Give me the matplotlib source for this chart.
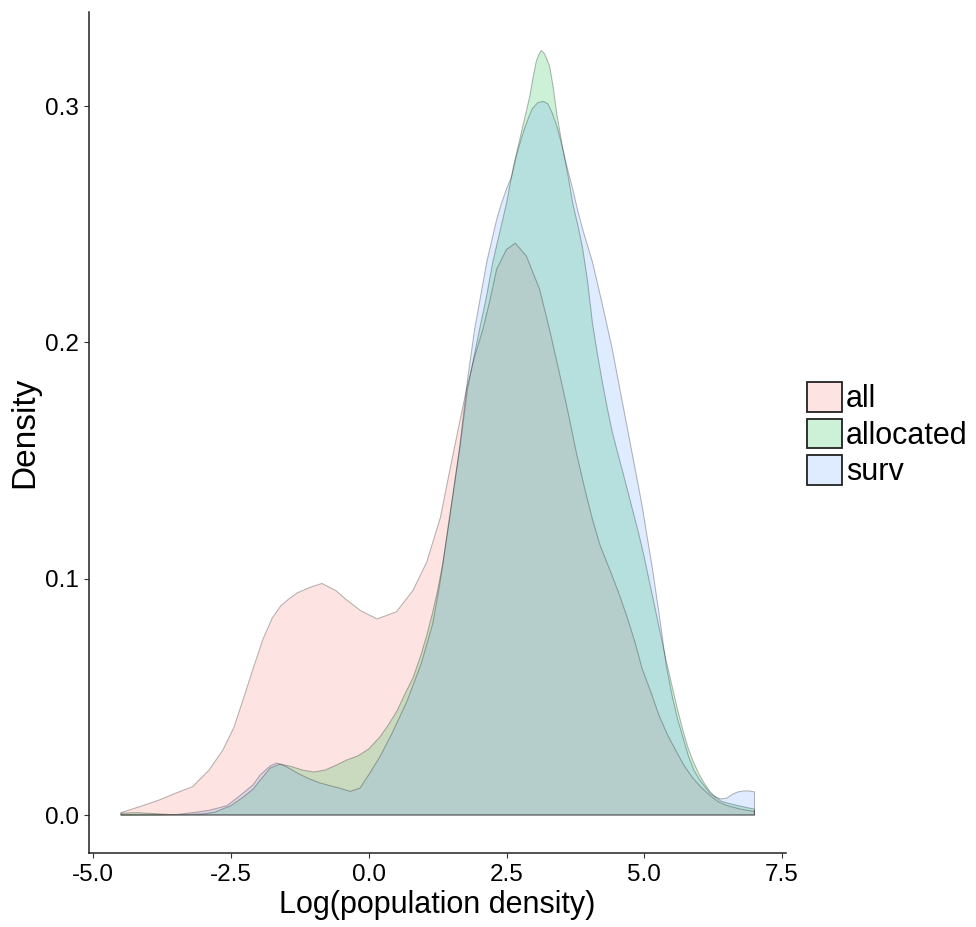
import matplotlib
matplotlib.use("Agg")
import matplotlib.pyplot as plt
from matplotlib.colors import to_rgb
from matplotlib.patches import Patch

plt.rcParams['font.family'] = ['Liberation Sans', 'DejaVu Sans']

# density estimates of log population density, per group
groups = ["all", "allocated", "surv"]
fills = ["#F8766D", "#00BA38", "#619CFF"]

all_x = [-4.5, -4.1, -3.8, -3.5, -3.2, -2.9, -2.65, -2.45, -2.28, -2.1, -1.92, -1.75,
         -1.6, -1.45, -1.3, -1.05, -0.85, -0.6, -0.4, -0.15, 0.15, 0.5, 0.8, 1.05, 1.3,
         1.47, 1.62, 1.78, 1.92, 2.07, 2.2, 2.32, 2.5, 2.66, 2.86, 3.1, 3.28, 3.46,
         3.62, 3.77, 3.92, 4.06, 4.2, 4.37, 4.52, 4.67, 4.82, 4.96, 5.12, 5.27, 5.42,
         5.58, 5.72, 5.87, 6.02, 6.18, 6.35, 6.5, 6.75, 7.0]
all_y = [0.001, 0.004, 0.0064, 0.0093, 0.012, 0.019, 0.0275, 0.037, 0.049, 0.062,
         0.0745, 0.0835, 0.0885, 0.0915, 0.094, 0.0965, 0.098, 0.095, 0.091, 0.0865,
         0.083, 0.086, 0.095, 0.107, 0.126, 0.146, 0.163, 0.181, 0.194, 0.2055, 0.218,
         0.231, 0.2394, 0.242, 0.2365, 0.2225, 0.2055, 0.187, 0.170, 0.153, 0.138,
         0.125, 0.114, 0.104, 0.095, 0.085, 0.074, 0.062, 0.052, 0.042, 0.034, 0.027,
         0.021, 0.016, 0.012, 0.0085, 0.0055, 0.004, 0.0025, 0.0015]

allocated_x = [-4.5, -4.2, -3.9, -3.6, -3.3, -3.0, -2.8, -2.5, -2.28, -2.1, -1.97, -1.79,
               -1.61, -1.4, -1.2, -1.0, -0.8, -0.6, -0.4, -0.2, 0.0, 0.2, 0.35, 0.51,
               0.65, 0.8, 0.95, 1.05, 1.15, 1.23, 1.34, 1.47, 1.65, 1.79, 1.9, 2.01,
               2.14, 2.25, 2.38, 2.5, 2.62, 2.74, 2.84, 2.92, 2.98, 3.04, 3.09, 3.13,
               3.18, 3.23, 3.28, 3.34, 3.41, 3.52, 3.62, 3.70, 3.80, 3.88, 3.97, 4.06,
               4.15, 4.24, 4.33, 4.42, 4.52, 4.6, 4.7, 4.8, 4.9, 5.0, 5.1, 5.2, 5.3,
               5.4, 5.5, 5.6, 5.7, 5.8, 5.9, 6.0, 6.1, 6.2, 6.3, 6.4, 6.55, 6.7, 6.85, 7.0]
allocated_y = [0.0008, 0.001, 0.0006, 0.0002, 0.0002, 0.0005, 0.0012, 0.004, 0.0076,
               0.011, 0.0148, 0.0199, 0.0216, 0.0205, 0.019, 0.0182, 0.019, 0.021,
               0.0233, 0.025, 0.028, 0.033, 0.038, 0.044, 0.051, 0.058, 0.068, 0.076,
               0.085, 0.093, 0.106, 0.127, 0.155, 0.180, 0.193, 0.2055, 0.220, 0.234,
               0.247, 0.259, 0.274, 0.286, 0.296, 0.304, 0.312, 0.319, 0.322, 0.3235,
               0.3225, 0.320, 0.317, 0.309, 0.297, 0.282, 0.270, 0.259, 0.249, 0.240,
               0.226, 0.208, 0.195, 0.183, 0.172, 0.162, 0.153, 0.146, 0.137, 0.128,
               0.119, 0.109, 0.098, 0.087, 0.076, 0.065, 0.055, 0.045, 0.036, 0.028,
               0.022, 0.017, 0.013, 0.0097, 0.0075, 0.0058, 0.0048, 0.004, 0.0032, 0.0025]

surv_x = [-4.5, -3.8, -3.5, -3.19, -2.9, -2.57, -2.28, -2.1, -1.97, -1.79, -1.67, -1.5,
          -1.3, -1.1, -0.89, -0.7, -0.53, -0.34, -0.16, 0.02, 0.2, 0.43, 0.69, 0.95,
          1.16, 1.29, 1.47, 1.65, 1.79, 1.92, 2.04, 2.14, 2.24, 2.32, 2.41, 2.5, 2.59,
          2.69, 2.79, 2.88, 2.97, 3.07, 3.17, 3.25, 3.33, 3.42, 3.51, 3.60, 3.70, 3.79,
          3.88, 3.97, 4.06, 4.15, 4.24, 4.33, 4.42, 4.51, 4.60, 4.69, 4.78, 4.87, 4.96,
          5.05, 5.14, 5.27, 5.4, 5.5, 5.6, 5.7, 5.8, 5.9, 6.0, 6.1, 6.2, 6.3, 6.4, 6.5,
          6.6, 6.7, 6.8, 6.9, 7.0]
surv_y = [0.0, 0.0001, 0.0002, 0.001, 0.002, 0.004, 0.0093, 0.0128, 0.017, 0.0208,
          0.022, 0.0205, 0.0178, 0.0155, 0.0136, 0.0124, 0.0114, 0.0100, 0.0114, 0.0178,
          0.0246, 0.035, 0.048, 0.064, 0.081, 0.098, 0.126, 0.156, 0.184, 0.2055, 0.221,
          0.234, 0.244, 0.252, 0.259, 0.265, 0.270, 0.280, 0.288, 0.294, 0.299, 0.3015,
          0.302, 0.301, 0.297, 0.291, 0.283, 0.274, 0.265, 0.256, 0.248, 0.241, 0.234,
          0.225, 0.216, 0.2065, 0.197, 0.186, 0.175, 0.164, 0.153, 0.142, 0.131, 0.118,
          0.1055, 0.085, 0.063, 0.051, 0.041, 0.033, 0.025, 0.019, 0.015, 0.012, 0.009,
          0.0075, 0.0068, 0.0072, 0.0088, 0.0098, 0.0102, 0.0102, 0.0098]

x_ticks = [-5.0, -2.5, 0.0, 2.5, 5.0, 7.5]
y_ticks = [0.0, 0.1, 0.2, 0.3]

series = [(all_x, all_y), (allocated_x, allocated_y), (surv_x, surv_y)]

fig = plt.figure(figsize=(9.76, 9.27), dpi=100)
ax = fig.add_axes([0.0914, 0.0795, 0.7141, 0.908])

for (xs, ys), col in zip(series, fills):
    ax.fill_between(xs, 0, ys, facecolor=col, alpha=0.2, edgecolor='none', zorder=2)
    # outline of the whole polygon, baseline included
    ax.fill_between(xs, 0, ys, facecolor='none', edgecolor=(0, 0, 0, 0.28),
                    linewidth=0.75, zorder=3)

ax.set_xlim(-5.075, 7.575)
ax.set_ylim(-0.0162, 0.340)
ax.set_xticks(x_ticks)
ax.set_xticklabels([f"{t:.1f}" for t in x_ticks])
ax.set_yticks(y_ticks)
ax.set_yticklabels([f"{t:.1f}" for t in y_ticks])

for side in ['top', 'right']:
    ax.spines[side].set_visible(False)
for side in ['left', 'bottom']:
    ax.spines[side].set_color('#222222')
    ax.spines[side].set_linewidth(1.1)
ax.tick_params(axis='both', length=3.5, width=0.8, color='#333333',
               labelsize=17.5, labelcolor='black', pad=4)

ax.set_xlabel("Log(population density)", fontsize=22, labelpad=3)
ax.set_ylabel("Density", fontsize=24, labelpad=3)

handles = [Patch(facecolor=(*to_rgb(c), 0.2), edgecolor='#222222', linewidth=1.3)
           for c in fills]
fig.legend(handles, groups, loc='upper left', bbox_to_anchor=(807 / 976, 1 - 382 / 927),
           frameon=False, fontsize=22, handlelength=1.15, handleheight=1.12,
           handletextpad=0.12, labelspacing=0.14, borderpad=0, borderaxespad=0)

fig.savefig("out.png", dpi=100)
